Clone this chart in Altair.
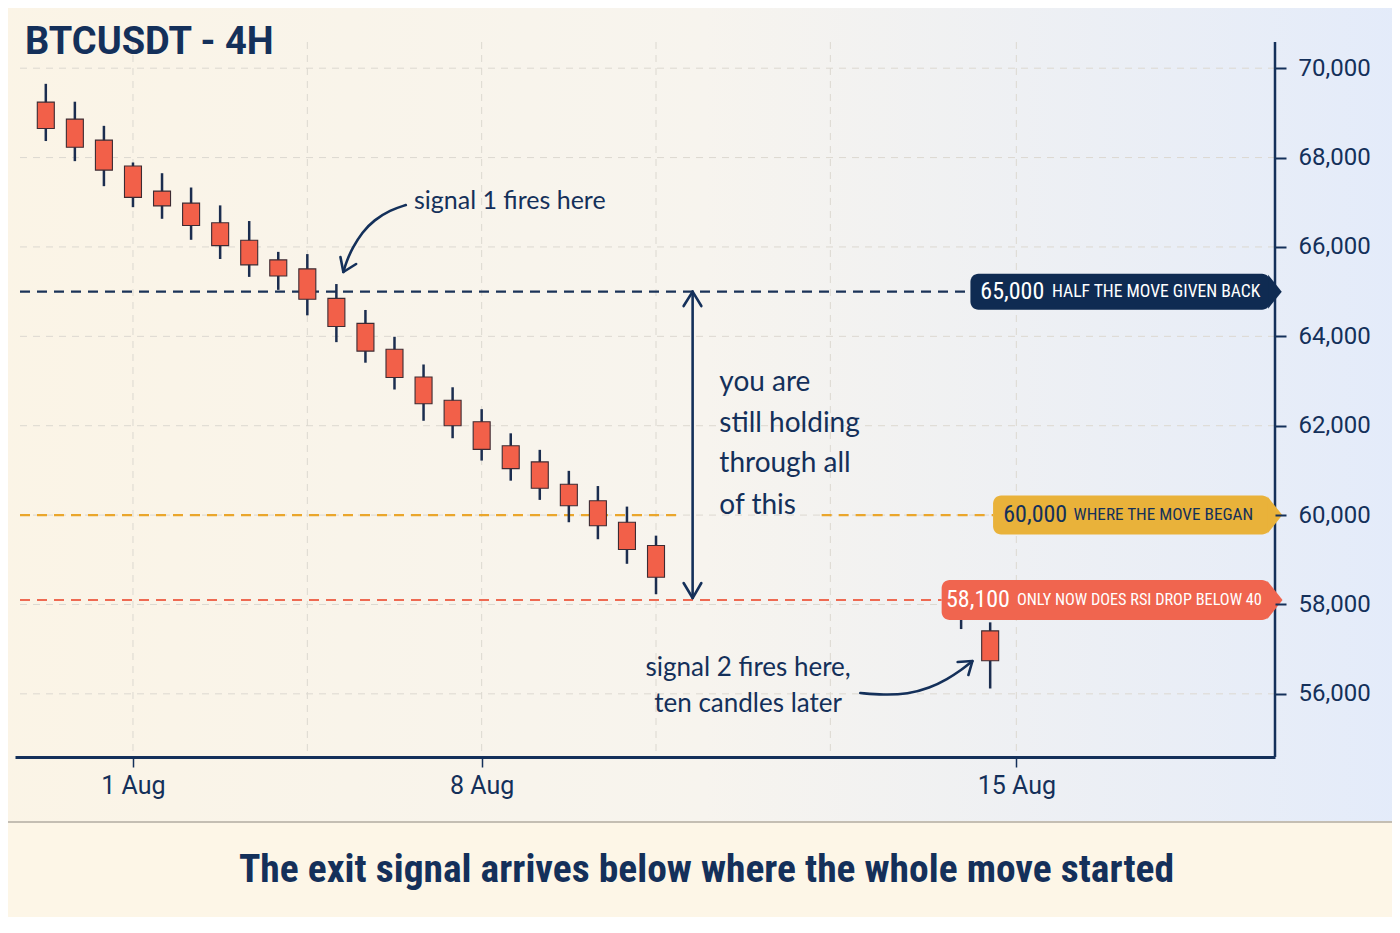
import altair as alt
import pandas as pd

# ---------------- data ----------------
TITLE = "BTCUSDT - 4H"
CAPTION = "The exit signal arrives below where the whole move started"

slots = list(range(22)) + [31.5, 32.5]
opens = [69240, 68860, 68390, 67810, 67250, 66980, 66540, 66150, 65710, 65510, 64850, 64290,
         63710, 63090, 62570, 62090, 61550, 61190, 60690, 60320, 59840, 59320, 58300, 57410]
closes = [68650, 68230, 67720, 67110, 66920, 66480, 66030, 65600, 65350, 64830, 64220, 63670,
          63080, 62490, 62000, 61470, 61040, 60600, 60210, 59760, 59230, 58610, 57750, 56740]
highs = [69650, 69250, 68710, 67890, 67650, 67330, 66930, 66580, 65890, 65840, 65170, 64590,
         63990, 63370, 62860, 62370, 61830, 61460, 60990, 60650, 60190, 59540, 58450, 57600]
lows = [68370, 67920, 67360, 66890, 66630, 66160, 65730, 65330, 65040, 64470, 63870, 63410,
        62810, 62110, 61720, 61220, 60770, 60340, 59840, 59460, 58910, 58230, 57450, 56120]

x_tick_vals = [3, 15, 33.4]
x_tick_labels = ["1 Aug", "8 Aug", "15 Aug"]
x_grid_vals = [3, 9, 15, 21, 27, 33.4]
y_tick_vals = [56000, 58000, 60000, 62000, 64000, 66000, 68000, 70000]

level_vals = [65000, 60000, 58100]
level_nums = ["65,000", "60,000", "58,100"]
level_texts = ["HALF THE MOVE GIVEN BACK", "WHERE THE MOVE BEGAN", "ONLY NOW DOES RSI DROP BELOW 40"]
level_line_colors = ["#1b3358", "#eaa62c", "#ee6a52"]
level_box_colors = ["#0f2b52", "#e9b23a", "#f0654f"]
level_text_colors = ["#ffffff", "#14305a", "#ffffff"]
level_box_x0 = [31.82, 32.6, 30.83]
level_box_half = [403, 436, 447]
level_tri_size = [1156, 1369, 1444]
level_num_x = [32.16, 32.95, 30.98]
level_txt_x = [41.8, 41.55, 41.85]
level_txt_size = [17.6, 17.2, 16.3]
# dashed segments: (level index, start slot, end slot)
seg_level = [0, 1, 1, 2]
seg_x0 = [-0.888, -0.888, 26.7, -0.888]
seg_x1 = [31.82, 21.92, 32.6, 30.83]

note1_text = ["signal 1 fires here"]
note1_x = [12.67]
note1_y = [67028]
note2_text = ["you are", "still holding", "through all", "of this"]
note2_x = [23.18] * 4
note2_y = [62955, 62038, 61143, 60203]
note3_text = ["signal 2 fires here,", "ten candles later"]
note3_x = [24.17, 24.17]
note3_y = [56578, 55772]

curve1_x = [12.39, 11.85, 11.30, 10.89, 10.55, 10.34, 10.24]
curve1_y = [66938, 66826, 66602, 66334, 65976, 65663, 65439]
curve2_x = [28.03, 28.82, 29.67, 30.42, 31.03, 31.51, 31.89]
curve2_y = [56019, 55974, 55996, 56131, 56332, 56533, 56735]
straight_segs = {
    "head1": ([10.14, 10.24, 10.68], [65775, 65439, 65618]),
    "shaft": ([22.26, 22.26], [65000, 58144]),
    "headTop": ([21.95, 22.26, 22.56], [64678, 65000, 64678]),
    "headBot": ([21.95, 22.26, 22.56], [58480, 58144, 58480]),
    "head2": ([31.38, 31.89, 31.75], [56712, 56735, 56421]),
}

# ---------------- styling ----------------
NAVY = "#14305a"
WICK = "#1b2d4f"
CORAL = "#f26049"
GRID = "#dcd8d0"
W, H = 1260, 715
XDOM = [-0.888, 42.13]
YDOM = [54587, 70586]
NARROW = "Liberation Sans Narrow, Roboto Condensed, Roboto"
HAND = "Lato"

label_expr = "''"
for v, l in reversed(list(zip(x_tick_vals, x_tick_labels))):
    label_expr = f"datum.value == {v} ? '{l}' : {label_expr}"

xs = alt.Scale(domain=XDOM, nice=False, zero=False)
ys = alt.Scale(domain=YDOM, nice=False, zero=False)
x_axis = alt.Axis(values=x_tick_vals, labelExpr=label_expr, grid=False, domainColor=NAVY,
                  domainWidth=3, tickColor=NAVY, tickSize=10, tickWidth=1.5, labelFontSize=25,
                  labelColor=NAVY, labelFont="Roboto", labelPadding=6, title=CAPTION,
                  titleFont=NARROW, titleFontSize=39.5, titleFontWeight="bold", titleColor=NAVY,
                  titleX=691, titleY=112, titleAlign="center", titleBaseline="middle", zindex=1)
y_axis = alt.Axis(orient="right", values=y_tick_vals, format=",.0f", grid=False, domain=False,
                  tickColor=NAVY, tickSize=11, tickWidth=2, labelFontSize=24, labelColor=NAVY,
                  labelFont="Roboto", labelPadding=12, title=None, zindex=1)


def X(f):
    return alt.X(f"{f}:Q", scale=xs, axis=x_axis)


def Y(f):
    return alt.Y(f"{f}:Q", scale=ys, axis=y_axis)


one = pd.DataFrame({"k": [0]})

bg = alt.Chart(one).mark_rect(
    color=alt.Gradient(gradient="linear", x1=0, x2=1, y1=0, y2=0,
                       stops=[alt.GradientStop(color="#fbf4e6", offset=0),
                              alt.GradientStop(color="#f7f4ee", offset=0.5),
                              alt.GradientStop(color="#e3ebfa", offset=1)])
).encode(x=alt.value(-20), x2=alt.value(1400), y=alt.value(-50), y2=alt.value(780))

band = alt.Chart(one).mark_rect(color="#fdf6e7").encode(
    x=alt.value(-20), x2=alt.value(1400), y=alt.value(780), y2=alt.value(900))
sep = alt.Chart(one).mark_rule(color="#c4beb3", strokeWidth=2).encode(
    x=alt.value(-20), x2=alt.value(1400), y=alt.value(780))

hgrid = alt.Chart(pd.DataFrame({"gy": y_tick_vals})).mark_rule(
    color=GRID, strokeDash=[7, 6], strokeWidth=1).encode(y=Y("gy"))
vgrid = alt.Chart(pd.DataFrame({"gx": x_grid_vals})).mark_rule(
    color=GRID, strokeDash=[7, 6], strokeWidth=1).encode(x=X("gx"))

ydomain = alt.Chart(one).mark_rule(color=NAVY, strokeWidth=2.5).encode(
    x=alt.value(W), y=alt.value(0), y2=alt.value(H))

seg_df = pd.DataFrame({
    "x0": seg_x0, "x1": seg_x1,
    "lv": [level_vals[i] for i in seg_level],
    "col": [level_line_colors[i] for i in seg_level],
})
levels = alt.Chart(seg_df).mark_rule(strokeDash=[10, 7], strokeWidth=2.2).encode(
    x=X("x0"), x2="x1:Q", y=Y("lv"), color=alt.Color("col:N", scale=None))

cdf = pd.DataFrame({"slot": slots, "open": opens, "close": closes, "high": highs, "low": lows})
wicks = alt.Chart(cdf).mark_rule(color=WICK, strokeWidth=2.5).encode(
    x=X("slot"), y=Y("low"), y2="high:Q")
bodies = alt.Chart(cdf).mark_bar(size=17, color=CORAL, stroke="#3d2b33", strokeWidth=1.1).encode(
    x=X("slot"), y=Y("open"), y2="close:Q")

bdf = pd.DataFrame({
    "x0": level_box_x0, "x1": [XDOM[1]] * 3,
    "top": [v + h for v, h in zip(level_vals, level_box_half)],
    "bot": [v - h for v, h in zip(level_vals, level_box_half)],
    "lv": level_vals, "box": level_box_colors, "tc": level_text_colors,
    "num": level_nums, "txt": level_texts, "nx": level_num_x, "tx": level_txt_x,
    "ts": level_txt_size, "tri": [42.3] * 3, "sz": level_tri_size,
})
boxes = alt.Chart(bdf).mark_rect(cornerRadius=8).encode(
    x=X("x0"), x2="x1:Q", y=Y("top"), y2="bot:Q", color=alt.Color("box:N", scale=None))
tris = alt.Chart(bdf).mark_point(shape="M -0.4 -1 L 0.4 0 L -0.4 1 Z", filled=True,
                                 opacity=1, strokeWidth=0).encode(
    x=X("tri"), y=Y("lv"), color=alt.Color("box:N", scale=None), size=alt.Size("sz:Q", scale=None))
nums = alt.Chart(bdf).mark_text(align="left", baseline="middle", fontSize=24, font=NARROW,
                                fontWeight="normal").encode(
    x=X("nx"), y=Y("lv"), text="num:N", color=alt.Color("tc:N", scale=None))
txts = alt.Chart(bdf).mark_text(align="right", baseline="middle", font=NARROW,
                                fontWeight="normal").encode(
    x=X("tx"), y=Y("lv"), text="txt:N", color=alt.Color("tc:N", scale=None),
    size=alt.Size("ts:Q", scale=None))

n1 = alt.Chart(pd.DataFrame({"t": note1_text, "x": note1_x, "y": note1_y})).mark_text(
    align="left", baseline="middle", fontSize=25, font=HAND, color=NAVY).encode(
    x=X("x"), y=Y("y"), text="t:N")
n2 = alt.Chart(pd.DataFrame({"t": note2_text, "x": note2_x, "y": note2_y})).mark_text(
    align="left", baseline="middle", fontSize=28, font=HAND, color=NAVY).encode(
    x=X("x"), y=Y("y"), text="t:N")
n3 = alt.Chart(pd.DataFrame({"t": note3_text, "x": note3_x, "y": note3_y})).mark_text(
    align="center", baseline="middle", fontSize=26, font=HAND, color=NAVY).encode(
    x=X("x"), y=Y("y"), text="t:N")

rows = []
for name, (xx, yy) in {"c1": (curve1_x, curve1_y), "c2": (curve2_x, curve2_y)}.items():
    for i, (a, b) in enumerate(zip(xx, yy)):
        rows.append({"seg": name, "ord": i, "ax": a, "ay": b})
curves = alt.Chart(pd.DataFrame(rows)).mark_line(
    color=NAVY, strokeWidth=2.6, interpolate="basis", strokeCap="round").encode(
    x=X("ax"), y=Y("ay"), detail="seg:N", order="ord:Q")
rows = []
for name, (xx, yy) in straight_segs.items():
    for i, (a, b) in enumerate(zip(xx, yy)):
        rows.append({"seg": name, "ord": i, "ax": a, "ay": b})
straights = alt.Chart(pd.DataFrame(rows)).mark_line(
    color=NAVY, strokeWidth=2.6, strokeCap="round", strokeJoin="round").encode(
    x=X("ax"), y=Y("ay"), detail="seg:N", order="ord:Q")

title = alt.Chart(pd.DataFrame({"t": [TITLE]})).mark_text(
    align="left", baseline="alphabetic", fontSize=38, font="Roboto", fontWeight="bold",
    color=NAVY).encode(x=alt.value(10), y=alt.value(12), text="t:N")

chart = alt.layer(
    bg, band, sep, hgrid, vgrid, levels, wicks, bodies, ydomain, boxes, tris, nums, txts,
    n1, n2, n3, curves, straights, title
).properties(
    width=W, height=H, autosize="none",
    padding={"left": 7, "top": 34, "right": 117, "bottom": 160},
).configure_view(stroke=None)

chart.save("out.html", embed_options={"renderer": "svg", "actions": False})
